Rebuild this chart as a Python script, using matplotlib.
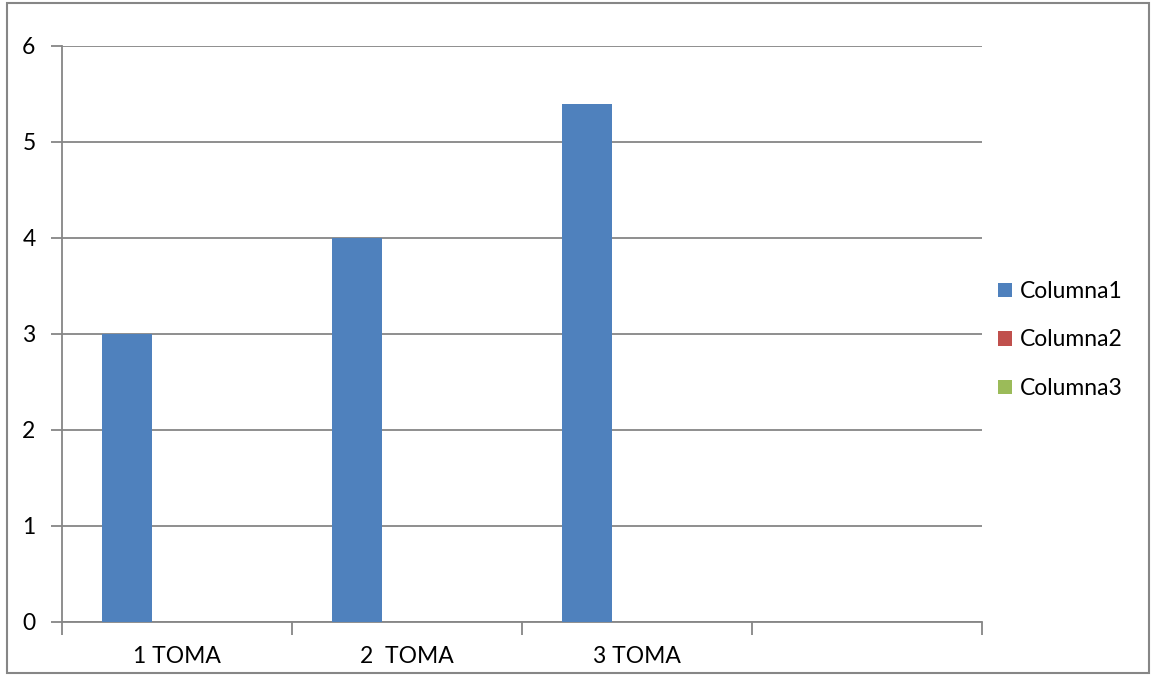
import matplotlib.pyplot as plt
from matplotlib.patches import Patch, Rectangle
import numpy as np

# Datos de la tabla
categorias = ["1 TOMA", "2  TOMA", "3 TOMA", ""]
columna1 = [3, 4, 5.4, 0]
columna2 = [0, 0, 0, 0]
columna3 = [0, 0, 0, 0]
series = ["Columna1", "Columna2", "Columna3"]
colores = ["#4F81BD", "#C0504D", "#9BBB59"]

plt.rcParams['font.family'] = ['Lato', 'DejaVu Sans']
gris = "#868686"
fs = 16.5

fig = plt.figure(figsize=(11.55, 6.76), dpi=100)
ax = fig.add_axes([62 / 1155, 54 / 676, 920 / 1155, 576 / 676])

x = np.arange(len(categorias))
ancho = 50 / 230
for i, (vals, col) in enumerate(zip([columna1, columna2, columna3], colores)):
    ax.bar(x + (i - 1) * ancho, vals, width=ancho, color=col, zorder=3)

ax.set_xlim(-0.5, len(categorias) - 0.5)
ax.set_ylim(0, 6)
ax.set_yticks(range(0, 7))
ax.yaxis.grid(True, color=gris, linewidth=1.3, zorder=0)
ax.set_axisbelow(True)

# marcas en los limites de cada categoria, etiquetas en el centro
ax.set_xticks(np.arange(-0.5, len(categorias)), labels=[])
ax.set_xticks(x, labels=categorias, minor=True)
ax.tick_params(axis='x', which='major', length=9, width=1.3, color=gris, direction='out')
ax.tick_params(axis='x', which='minor', length=0, pad=17, labelsize=fs)
ax.tick_params(axis='y', length=8, width=1.3, color=gris, pad=11, labelsize=fs)

for s in ['top', 'right']:
    ax.spines[s].set_visible(False)
for s in ['left', 'bottom']:
    ax.spines[s].set_color(gris)
    ax.spines[s].set_linewidth(1.3)

handles = [Patch(facecolor=c, edgecolor='none') for c in colores]
fig.legend(handles, series, loc='center left', bbox_to_anchor=(998 / 1155, 336 / 676),
           frameon=False, fontsize=fs, handlelength=0.6, handleheight=0.6,
           handletextpad=0.35, labelspacing=1.2, borderaxespad=0, borderpad=0)

# borde exterior del grafico
fig.patches.append(Rectangle((7 / 1155, 3 / 676), 1142 / 1155, 670 / 676,
                             transform=fig.transFigure, fill=False,
                             edgecolor=gris, linewidth=1.5))

fig.savefig("out.png", dpi=100)
